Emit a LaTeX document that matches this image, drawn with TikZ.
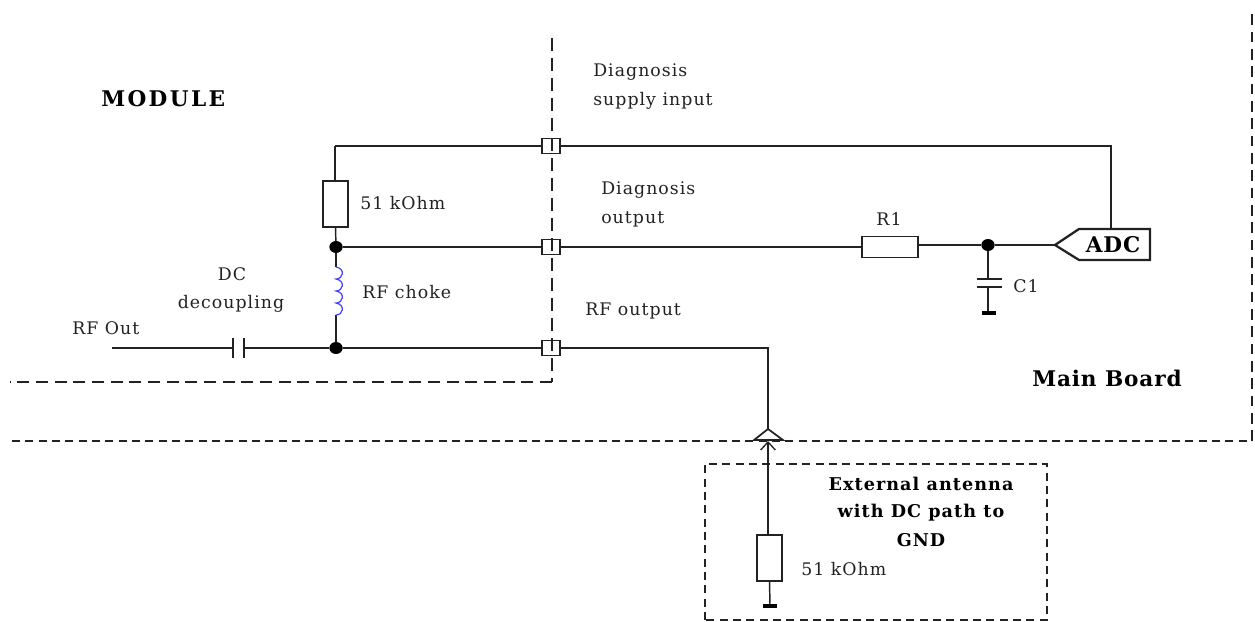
\documentclass[tikz,border=0pt]{standalone}
\usepackage{fontspec}
\setmainfont{DejaVu Serif}
\newfontfamily\lblfont[LetterSpace=6]{DejaVu Serif}
\newfontfamily\bigfont[LetterSpace=4]{DejaVu Serif}
\newfontfamily\modfont[LetterSpace=11]{DejaVu Serif}
\usetikzlibrary{arrows.meta,shapes.geometric}
\definecolor{ink}{HTML}{222222}
\tikzset{
  x=0.75pt,y=-0.75pt,
  wire/.style={draw=ink,line width=1.1pt},
  thin wire/.style={draw=ink,line width=0.9pt},
  bound/.style={draw=ink,line width=1.6pt,dash pattern=on 9.5pt off 5.5pt},
  hbound/.style={draw=ink,line width=0.95pt,dash pattern=on 6pt off 4pt},
  res/.style={draw=ink,line width=1pt,fill=white,minimum width=18.7pt,minimum height=34.5pt,inner sep=0pt,outer sep=0pt},
  rh/.style={draw=ink,line width=1pt,fill=white,minimum width=42pt,minimum height=15.5pt,inner sep=0pt,outer sep=0pt},
  conn/.style={draw=ink,line width=1pt,minimum width=13.5pt,minimum height=11.5pt,inner sep=0pt,outer sep=0pt},
  dotn/.style={ellipse,fill=black,minimum width=10pt,minimum height=9pt,inner sep=0pt,outer sep=0pt},
  gnd/.style={fill=black,minimum width=10pt,minimum height=3.4pt,inner sep=0pt,outer sep=0pt},
  lbl/.style={font=\lblfont\fontsize{13pt}{16pt}\selectfont,text=ink,inner sep=0pt,anchor=west},
  blbl/.style={font=\lblfont\fontsize{13.2pt}{16pt}\selectfont\bfseries,text=black,inner sep=0pt},
  bigl/.style={font=\bigfont\fontsize{16.2pt}{18pt}\selectfont\bfseries,text=black,inner sep=0pt},
  modl/.style={font=\modfont\fontsize{16.2pt}{18pt}\selectfont\bfseries,text=black,inner sep=0pt},
}
\begin{document}
\begin{tikzpicture}
\useasboundingbox (0,0) rectangle (1255,621);
% boundaries
\coordinate (bA) at (552,38);
\coordinate (bB) at (552,382);
\coordinate (bC) at (10,382);
\coordinate (mA) at (12,441);
\coordinate (mB) at (1252,441);
\coordinate (mC) at (1252,14);
\draw[bound] (bA) -- (bB);
\draw[bound,line width=1.1pt,dash pattern=on 9pt off 5pt] (bB) -- (bC);
\draw[hbound] (mA) -- (mB);
\draw[bound,line width=1.1pt,dash pattern=on 8pt off 5pt] (mB) -- (mC);
\draw[hbound] (705,620) -- (705,464) -- (1047,464) -- (1047,620) -- cycle;
% connectors
\node[conn] (c1) at (551,146) {};
\node[conn] (c2) at (551,247) {};
\node[conn] (c3) at (551,348) {};
% components
\node[res] (r51) at (335.5,204) {};
\node[dotn] (n1) at (336,247) {};
\node[dotn] (n2) at (336,348) {};
\coordinate (lt) at (336,267);
\coordinate (lb) at (336,315);
\coordinate (tl) at (335,146);
\coordinate (rfin) at (112,348);
\coordinate (cl) at (233,348);
\coordinate (cr) at (244,348);
\node[rh] (r1) at (890,247) {};
\node[dotn] (n3) at (988,245) {};
\coordinate (atip) at (1055,245);
\draw[draw=ink,line width=1.7pt,line join=miter,fill=white] (atip) -- (1079,229) -- (1150,229) -- (1150,260) -- (1079,260) -- cycle;
\coordinate (atop) at (1111,229);
\coordinate (tr) at (1111,146);
\coordinate (cap1) at (988,279);
\coordinate (cap2) at (988,287);
\node[gnd] (g1) at (989,313) {};
\coordinate (ant) at (768,348);
\coordinate (antt) at (768,429);
\node[res] (r2) at (769.5,558) {};
\node[gnd] (g2) at (770,606) {};
% wires
\draw[wire] (tl) -- (r51.north -| tl);
\draw[wire] (tl) -- (c1.west);
\draw[wire] (c1.east) -- (tr) -- (atop);
\draw[wire] (r51.south) -- (n1);
\draw[wire] (n1) -- (c2.west);
\draw[wire] (c2.east) -- (r1.west |- c2.east);
\draw[wire] (r1.east |- n3) -- (n3);
\draw[wire] (n3) -- (atip);
\draw[wire] (n1) -- (lt);
\draw[wire] (lb) -- (n2);
\draw[draw=blue!75!white,line width=0.9pt] (lt)
  .. controls (346,269) and (343,279) .. (336,279)
  .. controls (346,281) and (343,291) .. (336,291)
  .. controls (346,293) and (343,303) .. (336,303)
  .. controls (346,305) and (343,315) .. (336,315);
\draw[thin wire] (rfin) -- (cl);
\draw[wire] (cr) -- (n2);
\draw[wire] (n2) -- (c3.west);
\draw[wire] (c3.east) -- (ant) -- (antt);
\draw[wire] (cl)+(0,-10) -- +(0,10);
\draw[wire] (cr)+(0,-10) -- +(0,10);
\draw[wire] (n3) -- (cap1);
\draw[wire] (cap2) -- (g1.north -| cap2);
\draw[wire] (977,279) -- (1002,279);
\draw[wire] (977,287) -- (1002,287);
% antenna symbol
\draw[draw=ink,line width=1.3pt,fill=white] (antt) -- (783,440) -- (754,440) -- cycle;
\coordinate (arrtip) at (768,441);
\draw[wire,-{Straight Barb[length=6pt,width=11pt,line width=1pt]}] (r2.north -| arrtip) -- (arrtip);
\draw[wire] (r2.south) -- (g2);
% labels
\node[modl,anchor=west] (tM) at (101,99) {MODULE};
\node[lbl] (t1) at (593,72) {Diagnosis};
\node[lbl] (t2) at (593,101) {supply input};
\node[lbl] (t3) at (601,190) {Diagnosis};
\node[lbl] (t4) at (601,219) {output};
\node[lbl] (t5) at (585,311) {RF output};
\node[lbl] (t6) at (360,203) {51 kOhm};
\node[lbl] (t7) at (362,292) {RF choke};
\node[lbl,anchor=center] (t8) at (232,274) {DC};
\node[lbl,anchor=center] (t9) at (231,304) {decoupling};
\node[lbl] (t10) at (72,328) {RF Out};
\node[lbl,anchor=center] (t11) at (889,219) {R1};
\node[lbl] (t12) at (1013,286) {C1};
\node[bigl,anchor=center] (t13) at (1113,245) {ADC};
\node[bigl,anchor=west] (t14) at (1032,378) {Main Board};
\node[blbl,anchor=center] (t15) at (921,484) {External antenna};
\node[blbl,anchor=center] (t16) at (921,513) {with DC path to};
\node[blbl,anchor=center] (t17) at (921,540) {GND};
\node[lbl] (t18) at (801,569) {51 kOhm};
\end{tikzpicture}
\end{document}
